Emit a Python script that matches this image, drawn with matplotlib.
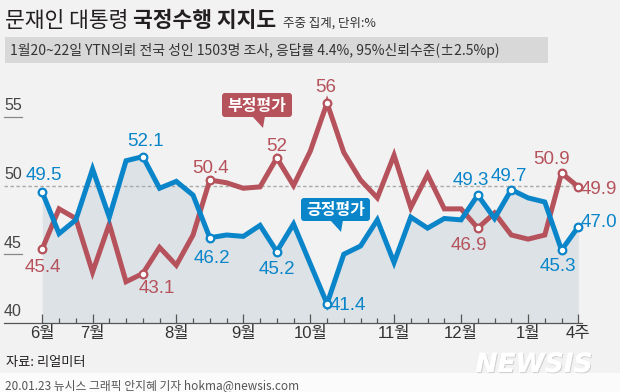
import matplotlib
matplotlib.use('Agg')
import matplotlib.pyplot as plt
from matplotlib import font_manager as fm
from matplotlib.patches import FancyBboxPatch, Polygon, Rectangle
from matplotlib.transforms import Affine2D
import matplotlib.patheffects as pe

# ---------------- data ----------------
weeks = list(range(33))
month_ticks = [0, 3, 8, 12, 16, 21, 25, 29, 32]
month_labels = ['6월', '7월', '8월', '9월', '10월', '11월', '12월', '1월', '4주']
approve = [49.5, 46.5, 47.5, 51.2, 47.7, 51.8, 52.1, 49.8, 50.3, 49.3,
           46.2, 46.4, 46.3, 47.1, 45.2, 47.2, 44.3, 41.4, 45.0, 45.6,
           47.5, 44.4, 47.7, 46.9, 47.6, 47.5, 49.3, 47.6, 49.7, 49.1,
           48.8, 45.3, 47.0]
disapprove = [45.4, 48.3, 47.6, 43.7, 47.2, 43.0, 43.6, 45.5, 44.2, 46.4,
              50.4, 50.2, 49.8, 49.9, 52.0, 50.0, 52.5, 56.0, 52.4, 50.4,
              49.1, 52.2, 48.4, 50.8, 48.3, 48.3, 46.9, 48.0, 46.4, 46.1,
              46.4, 50.9, 49.9]
approve_labels = {0: '49.5', 6: '52.1', 10: '46.2', 14: '45.2', 17: '41.4',
                  26: '49.3', 28: '49.7', 31: '45.3', 32: '47.0'}
disapprove_labels = {0: '45.4', 6: '43.1', 10: '50.4', 14: '52', 17: '56',
                     26: '46.9', 31: '50.9', 32: '49.9'}
yticks = [40, 45, 50, 55]

# label offsets in pixels (dx, dy; dy positive = downward) - layout only
approve_off = {0: (2, -19), 6: (3, -17), 10: (2, 18), 14: (0, 16), 17: (21, -1),
               26: (-7, -17), 28: (-2, -15), 31: (-4, 14), 32: (21, -7)}
disapprove_off = {0: (1, 16), 6: (14, 13), 10: (1, -14), 14: (0, -14), 17: (-1, -18),
                  26: (-9, 15), 31: (-10, -16), 32: (21, 0)}

# ---------------- style ----------------
W, H = 620, 392
BG = '#f2f2f2'
RED = '#b5525b'
BLUE = '#0a85c9'
FILL = '#dde2e6'
DARK = '#231f20'
GRAY = '#555555'

names = {f.name for f in fm.fontManager.ttflist}
NARROW_OK = 'Liberation Sans Narrow' in names
NARROW = 'Liberation Sans Narrow' if NARROW_OK else 'Liberation Sans'
KR = 'Noto Sans CJK KR'
NUM = [NARROW, KR]
plt.rcParams['font.family'] = [KR, 'DejaVu Sans']

LABEL_FS = 16 if NARROW_OK else 13.5
YT_FS = 13 if NARROW_OK else 11.5
MON_FS = 12.5 if NARROW_OK else 12

fig = plt.figure(figsize=(W / 100, H / 100), dpi=100, facecolor=BG)
T = Affine2D().scale(1, -1).translate(0, H)  # top-left pixel coordinates

fig.add_artist(Rectangle((0, 373), W, 19, transform=T, facecolor='#fbfbfb', edgecolor='none'))
fig.add_artist(Rectangle((5, 37), 543, 26, transform=T, facecolor='#d8d8d8', edgecolor='none'))

# ---------------- axes ----------------
PX_X = 16.75
PX_Y = 13.75
X0 = 42.3
ax_left, ax_right, ax_bottom = 4, 582, 323
ymin, ymax = 40, 58
ax = fig.add_axes([ax_left / W, (H - ax_bottom) / H, (ax_right - ax_left) / W,
                   (ymax - ymin) * PX_Y / H])
ax.set_xlim((ax_left - X0) / PX_X, (ax_right - X0) / PX_X)
ax.set_ylim(ymin, ymax)
ax.patch.set_visible(False)
for s in ['top', 'right', 'left']:
    ax.spines[s].set_visible(False)
ax.spines['bottom'].set_color(GRAY)
ax.spines['bottom'].set_linewidth(0.9)

ax.fill_between(weeks, approve, ymin, color=FILL, lw=0, zorder=1)
ax.axhline(50, color='#aaaaaa', lw=1, dashes=(2.5, 1.8), zorder=2)
xmin = ax.get_xlim()[0]
for v in yticks:
    if v in (45, 55):
        ax.plot([xmin, xmin + 18 / PX_X], [v, v], color='#888888', lw=0.9,
                clip_on=False, zorder=2)
    ax.text(xmin, v + 11 / PX_Y, str(v), family=NUM, fontsize=YT_FS, color='#444444',
            ha='left', va='center', clip_on=False)

ax.plot(weeks, disapprove, color=RED, lw=3.6, solid_joinstyle='miter', zorder=3)
ax.plot(weeks, approve, color=BLUE, lw=3.6, solid_joinstyle='miter', zorder=4)

for labels, offs, series, col in [(approve_labels, approve_off, approve, BLUE),
                                  (disapprove_labels, disapprove_off, disapprove, RED)]:
    xs = list(labels.keys())
    ax.plot(xs, [series[i] for i in xs], 'o', mfc='white', mec=col, ms=5.5,
            mew=1.6, zorder=6, clip_on=False)
    for i, txt in labels.items():
        dx, dy = offs[i]
        cap = 0.729 * LABEL_FS / 0.72
        ax.annotate(txt, (i, series[i]), xytext=(dx * 0.72, -(dy + cap / 2) * 0.72),
                    textcoords='offset points', ha='center', va='baseline',
                    family=NUM, fontsize=LABEL_FS, color=col, zorder=7,
                    annotation_clip=False)

ax.set_yticks([])
ax.set_xticks(month_ticks)
ax.set_xticklabels(month_labels, family=NUM, fontsize=MON_FS, color='#333333')
ax.set_xticks([w for w in weeks if w not in month_ticks], minor=True)
ax.tick_params(axis='x', which='major', direction='in', length=6.5, width=0.9,
               color=GRAY, pad=2)
ax.tick_params(axis='x', which='minor', direction='in', length=3.6, width=0.9,
               color=GRAY)

# ---------------- callout boxes ----------------
def callout(x0, y0, x1, y1, tail, text, col):
    fig.add_artist(FancyBboxPatch((x0, y0), x1 - x0, y1 - y0,
                                  boxstyle='round,pad=0,rounding_size=3',
                                  transform=T, facecolor=col, edgecolor='none', zorder=8))
    fig.add_artist(Polygon(tail, closed=True, transform=T, facecolor=col,
                           edgecolor='none', zorder=8))
    fig.text((x0 + x1) / 2, (y0 + y1) / 2 + 5.5, text, transform=T, ha='center',
             va='baseline', family=[KR], fontsize=11.5, weight='bold', color='white',
             zorder=9)

callout(222, 93, 292, 117, [(252, 116), (265, 116), (263, 128)], '부정평가', RED)
callout(301, 198, 370, 221, [(330, 220), (343, 220), (341, 232)], '긍정평가', BLUE)

# ---------------- titles ----------------
renderer = fig.canvas.get_renderer()
t1 = fig.text(5, 27, '문재인 대통령 ', transform=T, family=[KR], fontsize=15.5,
              color=DARK, va='baseline', ha='left')
bb = t1.get_window_extent(renderer)
t2 = fig.text(bb.x1, H - 27, '국정수행 지지도', family=[KR], fontsize=15.5,
              weight='bold', color=DARK, va='baseline', ha='left',
              transform=None)
bb2 = t2.get_window_extent(renderer)
fig.text(bb2.x1 + 7, H - 27, '주중 집계, 단위:%', family=[KR], fontsize=9,
         color='#333333', va='baseline', ha='left', transform=None)

fig.text(10, 54.5, '1월20~22일 YTN의뢰 전국 성인 1503명 조사, 응답률 4.4%, 95%신뢰수준(±2.5%p)',
         transform=T, family=[KR, 'DejaVu Sans'], fontsize=10, color='#333333',
         va='baseline', ha='left')

fig.text(6, 366, '자료: 리얼미터', transform=T, family=[KR], fontsize=9.5,
         color=DARK, va='baseline', ha='left')
fig.text(5, 389.5, '20.01.23 뉴시스 그래픽 안지혜 기자 hokma@newsis.com', transform=T,
         family=[KR], fontsize=8.5, color='#555555', va='baseline', ha='left')

fig.text(534, 372, 'NEWSIS', transform=T, family=['DejaVu Sans'], fontsize=19,
         weight='bold', style='italic', color='white', va='baseline', ha='center',
         path_effects=[pe.withSimplePatchShadow(offset=(0.8, -0.8),
                                                shadow_rgbFace='#bbbbbb', alpha=0.6),
                       pe.Normal()])

fig.savefig('out.png', dpi=100, facecolor=BG)
